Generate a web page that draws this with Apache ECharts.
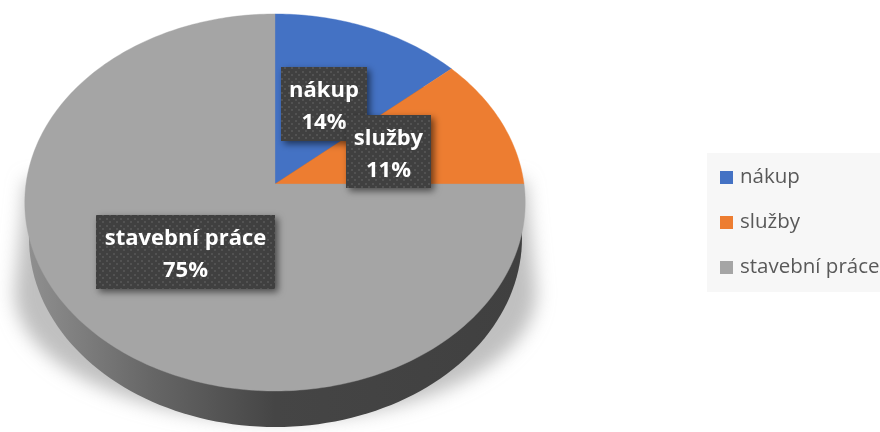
<!DOCTYPE html>
<html><head><meta charset="utf-8">
<style>html,body{margin:0;padding:0;background:#fff}#c{width:880px;height:432px}</style>
<script src="https://cdn.jsdelivr.net/npm/echarts@6/dist/echarts.min.js"></script>
</head><body><div id="c"></div>
<script>
const categories = ['nákup', 'služby', 'stavební práce'];
const values = [13.6, 11.4, 75];
const colors = ['#4472C4', '#ED7D31', '#A5A5A5'];
const labelBoxes = [
  {x: 281, y: 67, w: 86, h: 74},
  {x: 346, y: 115, w: 85, h: 73},
  {x: 96, y: 215, w: 179, h: 74}
];
const pie = {cx: 275, cy: 184, rx: 249, ry: 186.7, k: 0.098, depth: 36};
const total = values.reduce((a, b) => a + b, 0);
const font = '"Open Sans", "Noto Sans", sans-serif';

const tile = document.createElement('canvas');
tile.width = 7; tile.height = 7;
const tc = tile.getContext('2d');
tc.fillStyle = '#404040'; tc.fillRect(0, 0, 7, 7);
tc.fillStyle = '#525252'; tc.fillRect(1, 1, 2, 2); tc.fillRect(4, 4, 2, 2);

function project(angle) {
  const u = Math.sin(angle), v = -Math.cos(angle), d = 1 - pie.k * v;
  return [pie.cx + pie.rx * u / d, pie.cy + pie.ry * v / d];
}
function wedge(from, to) {
  const pts = [[pie.cx, pie.cy]];
  const n = Math.max(8, Math.ceil((to - from) * 60));
  for (let i = 0; i <= n; i++) pts.push(project(from + (to - from) * i / n));
  return pts;
}
function ellipse(cx, cy, rx, ry) {
  const pts = [];
  for (let i = 0; i < 180; i++) {
    const a = i / 180 * Math.PI * 2;
    pts.push([cx + rx * Math.cos(a), cy + ry * Math.sin(a)]);
  }
  return pts;
}
const shadowShift = 3000;
function shadowOutline() {
  const pts = [[525 - shadowShift, 180]];
  for (let i = 0; i <= 60; i++) {
    const a = i / 60 * Math.PI;
    pts.push([275.5 - shadowShift + 261 * Math.cos(a), 292 + 128 * Math.sin(a)]);
  }
  pts.push([26 - shadowShift, 180]);
  return pts;
}
function sliceSeries(idx) {
  const before = values.slice(0, idx).reduce((a, b) => a + b, 0);
  return {
    type: 'custom', name: categories[idx], coordinateSystem: 'none',
    itemStyle: {color: colors[idx]},
    data: [[values[idx]]], silent: true,
    renderItem(params, api) {
      const start = before / total * Math.PI * 2;
      const end = start + api.value(0) / total * Math.PI * 2;
      const b = labelBoxes[idx];
      return {type: 'group', children: [
        {type: 'polygon', z2: 10, shape: {points: wedge(start, end)},
         style: {fill: colors[idx], stroke: colors[idx], lineWidth: 0.4}},
        {type: 'rect', z2: 20 + idx * 2, shape: {x: b.x, y: b.y, width: b.w, height: b.h},
         style: {fill: {image: tile, repeat: 'repeat'}, shadowBlur: 7, shadowOffsetX: 3, shadowOffsetY: 3, shadowColor: 'rgba(0,0,0,0.55)'}},
        {type: 'text', z2: 21 + idx * 2, x: b.x + b.w / 2, y: b.y + b.h / 2 + 3,
         style: {text: categories[idx] + '\n' + Math.round(api.value(0) / total * 100) + '%',
                 fill: '#fff', font: 'bold 22px ' + font, align: 'center', verticalAlign: 'middle', lineHeight: 32}}
      ]};
    }
  };
}
const baseSeries = {
  type: 'custom', name: 'base', coordinateSystem: 'none', data: [[0]], silent: true, z: 1,
  renderItem() {
    return {type: 'group', children: [
      {type: 'polygon', z2: 1, shape: {points: shadowOutline()},
       style: {fill: '#000', shadowBlur: 18, shadowOffsetX: shadowShift, shadowColor: 'rgba(150,150,150,0.6)'}},
      {type: 'polygon', z2: 2, shape: {points: ellipse(275.5, 202 + pie.depth, 246.5, 189)},
       style: {fill: {type: 'linear', x: 0, y: 0, x2: 1, y2: 0, colorStops: [
         {offset: 0, color: '#8f8f8f'}, {offset: 0.25, color: '#666'}, {offset: 0.5, color: '#454545'}, {offset: 1, color: '#404040'}]}}}
    ]};
  }
};
const chart = echarts.init(document.getElementById('c'), null, {renderer: 'canvas'});
chart.setOption({
  animation: false,
  backgroundColor: '#fff',
  legend: {
    data: categories, orient: 'vertical', left: 707, top: 153,
    padding: [14, 30, 14, 13], backgroundColor: '#f7f7f7', borderRadius: 0,
    itemWidth: 13, itemHeight: 13, itemGap: 24, icon: 'rect', selectedMode: false,
    textStyle: {fontFamily: font, fontSize: 20.5, color: '#595959', padding: [0, 0, 0, 2]}
  },
  series: [baseSeries].concat(categories.map((_, i) => sliceSeries(i)))
});
</script></body></html>
